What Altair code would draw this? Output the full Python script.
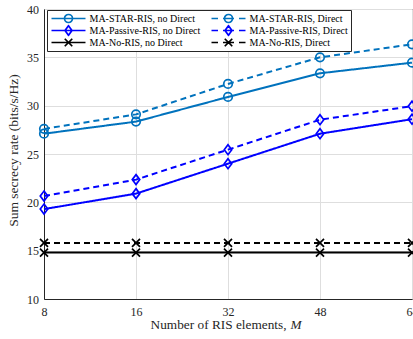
import altair as alt
import pandas as pd

M_labels = ["8", "16", "32", "48", "64"]
series_names = [
    "MA-STAR-RIS, no Direct",
    "MA-STAR-RIS, Direct",
    "MA-Passive-RIS, no Direct",
    "MA-Passive-RIS, Direct",
    "MA-No-RIS, no Direct",
    "MA-No-RIS, Direct",
]
star_no = [27.1, 28.35, 30.9, 33.35, 34.45]
star_direct = [27.6, 29.1, 32.25, 35.0, 36.35]
passive_no = [19.3, 20.9, 24.0, 27.1, 28.6]
passive_direct = [20.65, 22.35, 25.45, 28.55, 29.95]
noris_no = [14.8, 14.8, 14.8, 14.8, 14.8]
noris_direct = [15.8, 15.8, 15.8, 15.8, 15.8]

series_values = [star_no, star_direct, passive_no, passive_direct, noris_no, noris_direct]
colors = ["#0072BD", "#0072BD", "#0000FF", "#0000FF", "#000000", "#000000"]
dashes = [[1, 0], [6, 4], [1, 0], [6, 4], [1, 0], [6, 4]]

# plot marker paths (unit = 5 px with size 100)
circle = "M-0.85,0A0.85,0.85 0 1,1 0.85,0A0.85,0.85 0 1,1 -0.85,0Z"
diamond = "M0,-1L0.75,0L0,1L-0.75,0Z"
xmark = "M-0.8,-0.8L0.8,0.8M-0.8,0.8L0.8,-0.8"
marker_paths = [circle, circle, diamond, diamond, xmark, xmark]

# legend symbol paths (legend symbol size 36 -> 1 unit = 3 px)
U = 3.0
def ux(p):  # pixel offset from line start -> path units
    return round(-1 + p / U, 3)
def uy(p):
    return round(p / U, 3)

solid_line = f"M{ux(0)},0L{ux(34)},0"
dash_line = (f"M{ux(0)},0L{ux(6.5)},0M{ux(11.5)},0L{ux(22.5)},0"
             f"M{ux(27.5)},0L{ux(34)},0")
mc = 17.0
r = uy(4)
l_circle = f"M{ux(mc-4)},0A{r},{r} 0 1,1 {ux(mc+4)},0A{r},{r} 0 1,1 {ux(mc-4)},0Z"
l_diamond = (f"M{ux(mc)},{uy(-4.75)}L{ux(mc+3.5)},0L{ux(mc)},{uy(4.75)}"
             f"L{ux(mc-3.5)},0Z")
l_x = (f"M{ux(mc-3.75)},{uy(-3.75)}L{ux(mc+3.75)},{uy(3.75)}"
       f"M{ux(mc-3.75)},{uy(3.75)}L{ux(mc+3.75)},{uy(-3.75)}")
legend_paths = [
    solid_line + l_circle,
    dash_line + l_circle,
    solid_line + l_diamond,
    dash_line + l_diamond,
    solid_line + l_x,
    dash_line + l_x,
]
# legend fills column by column: no-Direct column first, then Direct column
legend_order = [0, 2, 4, 1, 3, 5]
legend_domain = [series_names[i] for i in legend_order]
legend_colors = [colors[i] for i in legend_order]
legend_shapes = [legend_paths[i] for i in legend_order]

rows = []
for name, vals in zip(series_names, series_values):
    for m, v in zip(M_labels, vals):
        rows.append({"M": m, "rate": v, "series": name})
df = pd.DataFrame(rows)

FONT = "Liberation Serif"

x_enc = alt.X(
    "M:O",
    sort=M_labels,
    scale=alt.Scale(type="point", padding=0, domain=M_labels),
    axis=alt.Axis(
        title=None, labelAngle=0, ticks=False, labelPadding=7,
        grid=True, gridColor="#dedede", domainColor="#262626",
        labelFont=FONT, labelFontSize=12, labelColor="#262626",
    ),
)
y_enc = alt.Y(
    "rate:Q",
    scale=alt.Scale(domain=[10, 40]),
    axis=alt.Axis(
        title="Sum secrecy rate (bits/s/Hz)", values=[10, 15, 20, 25, 30, 35, 40],
        ticks=False, labelPadding=5.5, grid=True, gridColor="#dedede",
        domainColor="#262626", labelFont=FONT, labelFontSize=12,
        labelColor="#262626", titleFont=FONT, titleFontSize=13.5,
        titleFontWeight="normal", titleColor="#262626", titlePadding=6,
        titleY=141,
    ),
)

base = alt.Chart(df)

lines = base.mark_line(strokeWidth=2).encode(
    x=x_enc,
    y=y_enc,
    color=alt.Color("series:N", scale=alt.Scale(domain=series_names, range=colors), legend=None),
    strokeDash=alt.StrokeDash("series:N", scale=alt.Scale(domain=series_names, range=dashes), legend=None),
    detail="series:N",
)

points = base.mark_point(filled=False, strokeWidth=1.7, size=100, opacity=1).encode(
    x=alt.X("M:O", sort=M_labels),
    y="rate:Q",
    color=alt.Color("series:N", scale=alt.Scale(domain=series_names, range=colors), legend=None),
    shape=alt.Shape("series:N", scale=alt.Scale(domain=series_names, range=marker_paths), legend=None),
)

legend_layer = base.transform_filter("false").mark_point(
    filled=False, strokeWidth=1.7, size=36, opacity=1
).encode(
    x=alt.X("M:O", sort=M_labels),
    y="rate:Q",
    color=alt.Color("series:N", title=None, scale=alt.Scale(domain=legend_domain, range=legend_colors)),
    shape=alt.Shape("series:N", title=None, scale=alt.Scale(domain=legend_domain, range=legend_shapes)),
)

title_main = alt.Chart(pd.DataFrame({"t": ["Number of RIS elements,"]})).mark_text(
    align="right", baseline="middle", font=FONT, fontSize=13.3, color="#262626"
).encode(text="t:N", x=alt.value(242.5), y=alt.value(316))

title_m = alt.Chart(pd.DataFrame({"t": ["M"]})).mark_text(
    align="left", baseline="middle", font=FONT, fontSize=13.3, fontStyle="italic", color="#262626"
).encode(text="t:N", x=alt.value(246.5), y=alt.value(316))

chart = (
    alt.layer(lines, points, legend_layer, title_main, title_m)
    .resolve_scale(color="independent", shape="independent")
    .properties(
        width=368, height=290,
        autosize=alt.AutoSizeParams(type="none"),
        padding={"left": 44, "top": 9, "right": 1, "bottom": 40},
    )
    .configure_view(stroke="#262626", strokeWidth=1)
    .configure_legend(
        orient="none", legendX=3, legendY=1, columns=2, symbolSize=36,
        symbolStrokeWidth=1.7, labelFont=FONT, labelFontSize=10,
        labelColor="#000000", labelOffset=30, padding=2.5, rowPadding=0,
        clipHeight=12,
        columnPadding=9, strokeColor="#262626", fillColor="#ffffff",
        cornerRadius=0, symbolOpacity=1, labelLimit=300,
    )
)

chart.save("out.html", embed_options={"renderer": "svg", "actions": False})
